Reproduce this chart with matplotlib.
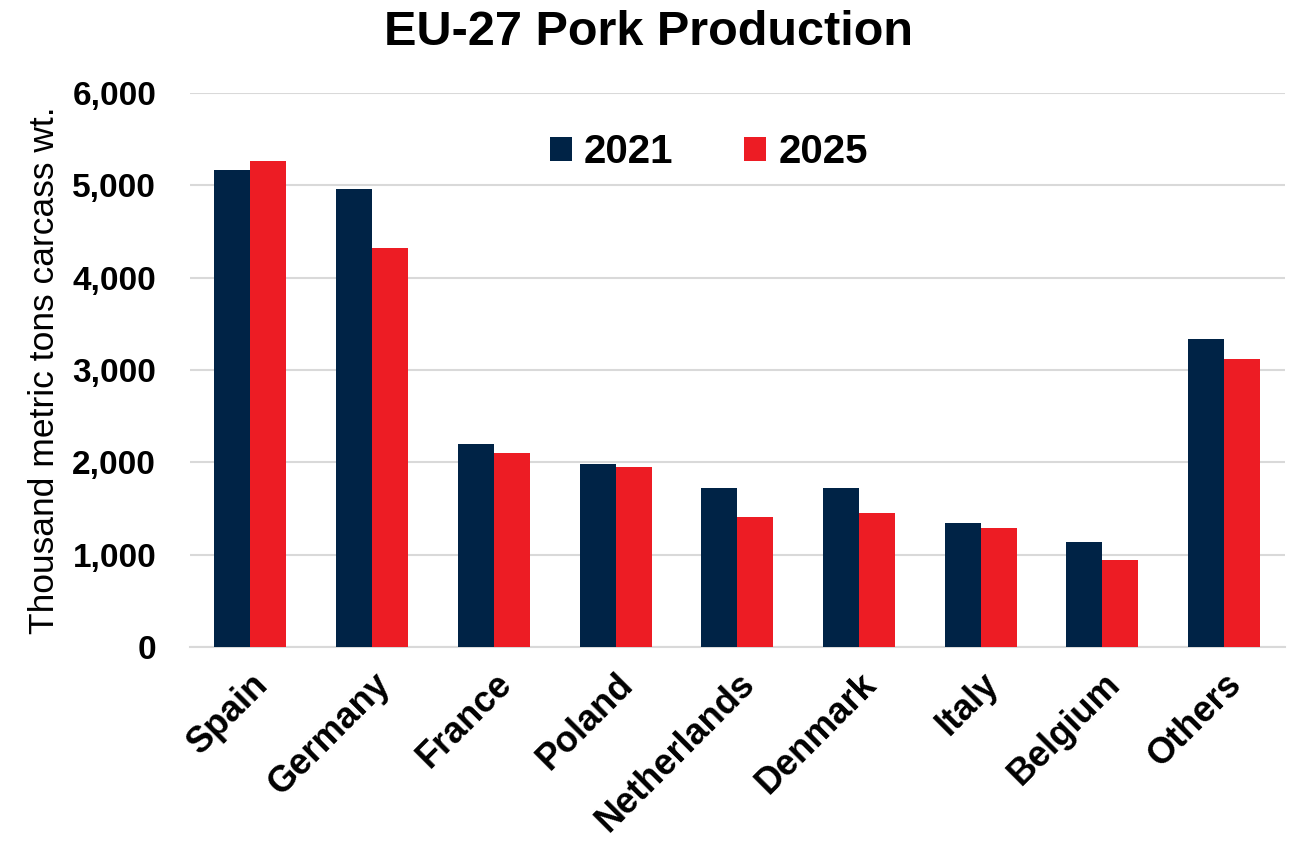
import numpy as np
import matplotlib.pyplot as plt
from matplotlib.ticker import FuncFormatter

plt.rcParams['font.family'] = ['Liberation Sans', 'DejaVu Sans']

countries = ['Spain', 'Germany', 'France', 'Poland', 'Netherlands',
             'Denmark', 'Italy', 'Belgium', 'Others']
prod_2021 = [5169, 4963, 2202, 1986, 1718, 1722, 1346, 1134, 3341]
prod_2025 = [5263, 4321, 2102, 1953, 1409, 1452, 1292, 946, 3117]

navy = '#002346'
red = '#ED1C24'

fig = plt.figure(figsize=(12.98, 8.43), dpi=100)
ax = fig.add_axes([0.146, 0.2325, 0.844, 0.657])

x = np.arange(len(countries))
w = 0.296
ax.bar(x - w / 2, prod_2021, w, color=navy, label='2021', zorder=3)
ax.bar(x + w / 2, prod_2025, w, color=red, label='2025', zorder=3)

ax.set_xlim(-0.5, len(countries) - 0.5)
ax.set_ylim(0, 6000)
ax.set_yticks(range(0, 6001, 1000))
ax.yaxis.set_major_formatter(FuncFormatter(lambda v, p: f'{int(v):,}'))
ax.grid(axis='y', color='#d9d9d9', linewidth=1.5, zorder=0)

for s in ['left', 'right', 'top']:
    ax.spines[s].set_visible(False)
ax.spines['bottom'].set_color('#d9d9d9')
ax.spines['bottom'].set_linewidth(1.5)

ax.tick_params(axis='both', length=0)
ax.tick_params(axis='y', pad=24, labelsize=24)
ax.tick_params(axis='x', pad=14)
ax.set_xticks(x)
ax.set_xticklabels(countries, rotation=45, ha='right', rotation_mode='anchor',
                   fontsize=26, fontweight='bold')
for lbl in ax.get_yticklabels():
    lbl.set_fontweight('bold')

ax.set_ylabel('Thousand metric tons carcass wt.', fontsize=25.5, labelpad=8)
fig.text(0.5, 0.988, 'EU-27 Pork Production', fontsize=35, fontweight='bold',
         ha='center', va='top')

ax.legend(loc='center', bbox_to_anchor=(0.474, 0.893), ncol=2, frameon=False,
          prop={'size': 29, 'weight': 'bold'}, handlelength=0.55, handleheight=0.55,
          columnspacing=1.75, handletextpad=0.3)

fig.savefig('out.png', dpi=100)
